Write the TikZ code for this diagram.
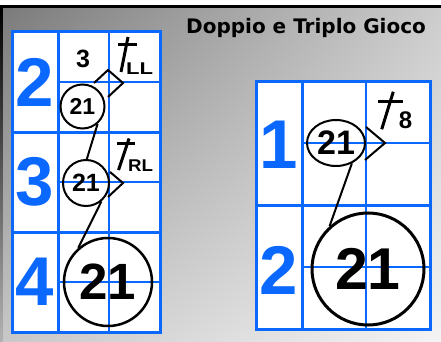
\documentclass[tikz,border=0pt]{standalone}
\usepackage{fontspec}
\usetikzlibrary{shapes.geometric,shadings}
\newfontfamily\digitfont{Liberation Sans}
\newfontfamily\titlefont{DejaVu Sans}
\definecolor{gblue}{RGB}{10,104,255}
\definecolor{bgtl}{RGB}{122,122,122}
\definecolor{bgtr}{RGB}{204,204,204}
\definecolor{bgbl}{RGB}{200,200,200}
\definecolor{bgbr}{RGB}{244,244,244}
\tikzset{
  thickgrid/.style={gblue, line width=3pt},
  thingrid/.style={gblue, line width=1.2pt},
  bignum/.style={text=gblue, inner sep=0pt, font=\digitfont\bfseries\fontsize{69}{69}\selectfont},
  runner/.style={draw, circle, line width=2pt, inner sep=0pt},
  link/.style={line width=2pt, line join=miter},
  dag/.style={line width=3pt},
  subtxt/.style={inner sep=0pt, font=\digitfont\bfseries\fontsize{17}{17}\selectfont},
}
\begin{document}
\begin{tikzpicture}[x=1pt, y=-1pt]
\useasboundingbox (0,0) rectangle (441,342);
% background
\fill[white] (0,0) rectangle (441,6);
\shade[upper left=bgtl, upper right=bgtr, lower left=bgbl, lower right=bgbr] (0,6) rectangle (441,342);
\fill[black] (0,5.5) rectangle (441,8);
\shade[top color=black, bottom color=black!30] (0,8) rectangle (2.5,342);
% title
\node[anchor=base west, inner sep=0pt, font=\titlefont\bfseries\fontsize{20}{20}\selectfont] (title) at (186,33.3) {Doppio e Triplo Gioco};

% ---------- left grid ----------
\fill[white] (12,32) rectangle (160,332);
\foreach \y in {32,132,232} {
  \draw[thingrid] (58,\y+50) -- (160,\y+50);
}
\draw[thingrid] (109,32) -- (109,332);
\draw[thickgrid] (58,32) -- (58,332);
\draw[thickgrid] (12,132) -- (160,132);
\draw[thickgrid] (12,232) -- (160,232);
\draw[thickgrid] (12,32) rectangle (160,332);

\node[bignum] (l2) at (35,82) {2};
\node[bignum] (l3) at (35,182) {3};
\node[bignum] (l4) at (35,282) {4};
\node[inner sep=0pt, font=\digitfont\bfseries\fontsize{25}{25}\selectfont] (outs) at (83,58.5) {3};

% daggers
\draw[dag] (128,37) -- (121,72);
\draw[dag] (118,45) -- (137,45);
\node[subtxt] (ll) at (139.5,68.5) {\scalebox{1.3}[1]{LL}};
\draw[dag] (129,138.5) -- (118.5,170);
\draw[dag] (117,143) -- (135,143);
\node[subtxt] (rl) at (140.5,166) {\scalebox{1.1}[1]{RL}};

% runners
\node[runner, minimum size=44pt, font=\digitfont\bfseries\fontsize{23}{23}\selectfont] (c1) at (82.5,106.5) {21};
\node[runner, minimum size=46pt, font=\digitfont\bfseries\fontsize{25}{25}\selectfont] (c2) at (86,183) {21};
\node[runner, line width=2.5pt, minimum size=88pt, font=\digitfont\bfseries\fontsize{51}{51}\selectfont] (c3) at (108,282) {21};

\draw[link] (94,83) -- (108,70) -- (123,83) -- (108,97);
\draw[link] (110,172) -- (123,183) -- (108,197);
\draw[link] (c1.-49) -- (c2.88);
\draw[link] (c2.-50) -- (c3.131);

% ---------- right grid ----------
\fill[white] (256,82) rectangle (430,329);
\draw[thingrid] (302,143) -- (430,143);
\draw[thingrid] (302,267) -- (430,267);
\draw[thingrid] (366,82) -- (366,329);
\draw[thickgrid] (302,82) -- (302,329);
\draw[thickgrid] (256,205) -- (430,205);
\draw[thickgrid] (256,82) rectangle (430,329);

\node[bignum] (r1n) at (279,145) {1};
\node[bignum] (r2n) at (279,270) {2};

\draw[dag] (393.3,91.7) -- (381.7,129.3);
\draw[dag] (378.3,101.7) -- (403.3,101.7);
\node[inner sep=0pt, font=\digitfont\bfseries\fontsize{24}{24}\selectfont] (eight) at (405.5,120) {8};

\node[draw, ellipse, line width=2pt, inner sep=0pt, minimum width=58pt, minimum height=46pt, font=\digitfont\bfseries\fontsize{34}{34}\selectfont] (r1) at (336,143) {21};
\node[runner, line width=3pt, minimum size=112pt, font=\digitfont\bfseries\fontsize{59}{59}\selectfont] (r2) at (368,269) {21};

\draw[link] (366,127) -- (385,143) -- (365,160);
\draw[link] (r1.-52) -- (r2.132);
\end{tikzpicture}
\end{document}
